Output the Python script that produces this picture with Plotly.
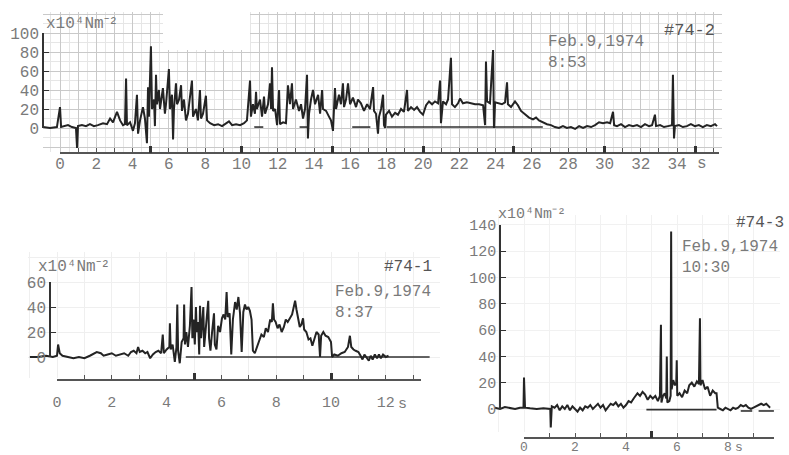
import plotly.graph_objects as go

W, H = 789, 455
FONT = "Liberation Mono"
INK = "#242424"
LABEL = "#7a7a7a"

# ---------------- data: #74-2  (Feb.9,1974 8:53) ----------------
t_742 = [-0.94, -0.55, -0.17, 0.0, 0.06, 0.28, 0.44, 0.66, 0.88, 0.94,
         0.99, 1.21, 1.43, 1.65, 1.87, 2.09, 2.37, 2.59, 2.76, 2.92,
         3.14, 3.31, 3.47, 3.58, 3.64, 3.69, 3.86, 4.02, 4.13, 4.24,
         4.30, 4.41, 4.57, 4.68, 4.79, 4.85, 4.90, 5.01, 5.07, 5.18,
         5.23, 5.29, 5.34, 5.45, 5.51, 5.67, 5.78, 5.84, 6.00, 6.06,
         6.17, 6.23, 6.28, 6.39, 6.45, 6.56, 6.67, 6.72, 6.83, 6.94,
         7.05, 7.27, 7.33, 7.49, 7.60, 7.71, 7.77, 7.88, 8.04, 8.10,
         8.27, 8.49, 8.71, 8.93, 9.15, 9.31, 9.48, 9.70, 9.92, 10.14,
         10.30, 10.47, 10.52, 10.63, 10.74, 10.80, 10.85, 11.02, 11.13, 11.24,
         11.30, 11.46, 11.57, 11.63, 11.68, 11.74, 11.85, 11.96, 12.07, 12.12,
         12.29, 12.45, 12.56, 12.67, 12.78, 12.84, 13.00, 13.17, 13.28, 13.39,
         13.50, 13.61, 13.66, 13.72, 13.83, 13.94, 14.05, 14.22, 14.33, 14.44,
         14.49, 14.66, 14.82, 14.93, 15.04, 15.15, 15.21, 15.37, 15.48, 15.59,
         15.65, 15.76, 15.87, 15.98, 16.14, 16.31, 16.42, 16.58, 16.75, 16.92,
         17.08, 17.25, 17.30, 17.41, 17.52, 17.58, 17.69, 17.80, 17.85, 17.91,
         17.96, 18.13, 18.29, 18.46, 18.62, 18.79, 18.95, 19.12, 19.17, 19.34,
         19.51, 19.67, 19.84, 20.00, 20.17, 20.33, 20.50, 20.66, 20.83, 20.94,
         20.99, 21.10, 21.27, 21.38, 21.54, 21.60, 21.76, 21.93, 22.04, 22.20,
         22.42, 22.64, 22.87, 23.09, 23.31, 23.42, 23.47, 23.53, 23.69, 23.86,
         23.91, 23.97, 24.13, 24.35, 24.52, 24.63, 24.68, 24.85, 25.07, 25.23,
         25.40, 25.62, 25.84, 26.06, 26.23, 26.39, 26.61, 26.83, 27.05, 27.27,
         27.49, 27.71, 27.93, 28.15, 28.38, 28.60, 28.82, 29.04, 29.26, 29.48,
         29.70, 29.92, 30.14, 30.31, 30.47, 30.53, 30.69, 30.91, 31.13, 31.35,
         31.57, 31.79, 32.01, 32.23, 32.45, 32.62, 32.78, 32.84, 33.06, 33.28,
         33.50, 33.72, 33.77, 33.83, 33.88, 34.10, 34.32, 34.54, 34.76, 34.98,
         35.20, 35.42, 35.64, 35.86, 36.09, 36.20]
p_742 = [1, 0, 1, 22, 1, 2, 3, 1, 0, -21,
         2, 3, 2, 4, 2, 3, 5, 4, 10, 6,
         17, 8, 3, 4, 52, 3, 6, -3, 5, 35,
         -6, 8, 22, 10, -16, 43, 12, 86, 20, 30,
         2, 56, 25, 40, 20, 42, 15, 25, 62, 20,
         35, -12, 20, 47, 25, 30, 45, 18, 30, 8,
         15, 50, 12, 20, 8, 40, 10, 15, 34, 8,
         5, 3, 4, 2, 5, 7, 3, 4, 3, 5,
         8, 50, 12, 25, 15, 38, 20, 30, 12, 33,
         15, 25, 47, 20, 64, 18, 20, 3, 40, 4,
         6, 5, 45, 25, 47, 20, 30, 18, 25, 10,
         20, 56, -11, 15, 30, 40, 25, 35, 15, 40,
         20, 18, 12, 8, -3, 42, 20, 35, 25, 47,
         22, 30, 47, 25, 32, 22, 30, 26, 18, 25,
         20, 43, 18, 15, -6, 12, 20, 35, 3, 0,
         14, 18, 12, 16, 14, 20, 17, 40, 18, 22,
         19, 22, 17, 14, 24, 28, 25, 28, 26, 50,
         5, 28, 25, 30, 74, 25, 22, 26, 31, 26,
         27, 26, 25, 25, 24, 3, 70, 28, 26, 82,
         0, 27, 26, 25, 27, 48, 25, 22, 28, 24,
         18, 14, 11, 9, 11, 8, 6, 4, 3, 1,
         0, 2, 0, 1, -1, 2, 0, 2, 1, 3,
         6, 5, 6, 5, 17, 3, 2, 4, 1, 3,
         2, 3, 1, 4, 2, 3, 14, 2, 3, 1,
         2, 3, 56, -11, 2, 3, 1, 2, 4, 2,
         3, 1, 3, 2, 4, 2]
base_t_742 = [10.7, 11.2, None, 13.2, 13.7, None, 16.1, 17.1, None, 18.0, 26.6]
base_p_742 = [1, 1, None, 1, 1, None, 1, 1, None, 1, 1]
yticks_742 = [0, 20, 40, 60, 80, 100]
xlabels_742 = [0, 2, 4, 6, 8, 10, 12, 14, 16, 18, 20, 22, 24, 26, 28, 30, 32, 34]
major_742 = [5, 10, 15, 20, 25, 30, 35]

# ---------------- data: #74-1  (Feb.9,1974 8:37) ----------------
t_741 = [-0.99, -0.7, -0.4, -0.15, 0.0, 0.04, 0.1, 0.2, 0.4, 0.6,
         0.8, 1.0, 1.2, 1.35, 1.45, 1.6, 1.7, 1.85, 2.0, 2.15,
         2.3, 2.45, 2.6, 2.7, 2.8, 2.9, 2.96, 3.02, 3.12, 3.22,
         3.3, 3.4, 3.5, 3.6, 3.7, 3.8, 3.86, 3.9, 4.0, 4.1,
         4.12, 4.15, 4.22, 4.3, 4.36, 4.39, 4.42, 4.48, 4.55, 4.62,
         4.64, 4.67, 4.72, 4.78, 4.85, 4.91, 4.94, 4.98, 5.03, 5.07,
         5.1, 5.15, 5.19, 5.22, 5.26, 5.3, 5.34, 5.37, 5.42, 5.47,
         5.52, 5.55, 5.6, 5.66, 5.73, 5.76, 5.82, 5.88, 5.95, 6.02,
         6.08, 6.14, 6.19, 6.23, 6.3, 6.36, 6.42, 6.5, 6.56, 6.62,
         6.68, 6.74, 6.8, 6.86, 6.92, 6.98, 7.04, 7.1, 7.15, 7.22,
         7.3, 7.38, 7.46, 7.55, 7.62, 7.7, 7.78, 7.84, 7.88, 7.92,
         7.98, 8.05, 8.12, 8.2, 8.28, 8.35, 8.42, 8.5, 8.58, 8.64,
         8.69, 8.74, 8.8, 8.86, 8.92, 8.98, 9.02, 9.1, 9.18, 9.25,
         9.32, 9.4, 9.47, 9.55, 9.6, 9.64, 9.72, 9.8, 9.9, 10.0,
         10.04, 10.12, 10.25, 10.38, 10.5, 10.62, 10.69, 10.74, 10.82, 10.9,
         11.0, 11.08, 11.15, 11.22, 11.3, 11.38, 11.45, 11.52, 11.6, 11.68,
         11.75, 11.82, 11.9, 12.0, 12.1]
p_741 = [0, 0, 1, 0, 1, 10, 3, 1, 0, -1,
         0, -1, 1, 3, 4, 3, 1, 2, 3, 1,
         2, 3, 1, 4, 5, 3, 8, 4, 5, 3,
         4, -1, 2, 4, 5, 3, 18, 3, 6, 8,
         27, 6, 10, -4, 8, 42, 5, -5, 12, 15,
         42, 10, 20, 8, 25, 56, 15, 30, 10, 40,
         20, 28, 2, 41, 15, 25, 40, 8, 20, 28,
         45, 15, 5, 20, 35, 10, 6, 25, 20, 31,
         34, 30, 52, 32, 35, 2, 30, 44, 38, 48,
         35, 4, 36, 42, 38, 40, 37, 30, 5, 3,
         8, 12, 18, 16, 23, 20, 30, 28, 43, 30,
         28, 23, 26, 20, 24, 30, 28, 31, 34, 40,
         45, 38, 30, 24, 26, 31, 22, 20, 14, 15,
         9, 16, 20, 18, 0, 17, 20, 17, 16, 12,
         0, 2, 1, 3, 4, 8, 17, 8, 6, 5,
         4, 1, -2, 2, -1, -3, 1, -2, 2, -1,
         2, -1, 2, 0, 1]
base_t_741 = [4.7, 13.6]
base_p_741 = [0, 0]
yticks_741 = [0, 20, 40, 60]
xlabels_741 = [0, 2, 4, 6, 8, 10, 12]
major_741 = [5, 10]

# ---------------- data: #74-3  (Feb.9,1974 10:30) ----------------
t_743 = [-1.14, -0.94, -0.75, -0.55, -0.35, -0.16, -0.02, 0.0, 0.04, 0.24,
         0.5, 0.76, 0.95, 1.03, 1.05, 1.09, 1.2, 1.3, 1.4, 1.5,
         1.6, 1.7, 1.8, 1.9, 2.0, 2.1, 2.2, 2.3, 2.4, 2.5,
         2.6, 2.7, 2.8, 2.9, 3.0, 3.1, 3.2, 3.3, 3.4, 3.5,
         3.6, 3.7, 3.8, 3.9, 4.0, 4.1, 4.2, 4.3, 4.45, 4.55,
         4.65, 4.75, 4.85, 4.95, 5.05, 5.15, 5.25, 5.33, 5.37, 5.39,
         5.45, 5.52, 5.58, 5.6, 5.62, 5.7, 5.75, 5.77, 5.79, 5.85,
         5.92, 5.97, 5.99, 6.01, 6.1, 6.2, 6.3, 6.4, 6.48, 6.58,
         6.68, 6.78, 6.86, 6.9, 6.92, 7.0, 7.1, 7.2, 7.3, 7.4,
         7.5, 7.55, 7.6, 7.7, 7.8, 7.9, 8.0, 8.1, 8.2, 8.3,
         8.4, 8.5, 8.6, 8.7, 8.8, 8.9, 9.0, 9.1, 9.2, 9.3,
         9.4, 9.5, 9.6, 9.65]
p_743 = [1, 0, 1.5, 0.5, 0, 1, 1, 24, 1, 0.5,
         0, 0.5, 0, 0, -14, 2, 1, 3, -1, 2,
         0, 3, -1, 2, 0, -2, 1, -1, 2, 1,
         3, 0, 2, 4, 1, 3, -1, 2, 4, 3,
         5, 2, 4, 1, 3, 6, 5, 8, 12, 10,
         13, 11, 7, 10, 8, 10, 6, 10, 64, 5,
         10, 12, 8, 40, 5, 6, 10, 135, 15, 22,
         18, 20, 37, 10, 12, 9, 14, 12, 18, 20,
         17, 21, 19, 69, 18, 22, 15, 17, 10, 14,
         12, 12, 1, 0, -1, 1, 0, -1, 1, 0,
         1, 3, 2, 3, 1, 0, 1, 2, 3, 4,
         3, 4, 2, 1]
base_t_743 = [4.8, 7.55, None, 8.5, 8.95, None, 9.2, 9.8]
base_p_743 = [-0.5, -0.5, None, -1.5, -1.5, None, -1.5, -1.5]
yticks_743 = [0, 20, 40, 60, 80, 100, 120, 140]
xlabels_743 = [0, 2, 4, 6, 8]
major_743 = [5]

# ---------------- geometry (pixels in the 789x455 page) ----------------
geom = [
    dict(box=(43, 722, 12, 152), x0=60, sx=18.15, y0=128, sy=0.95, ytop=100,
         yaxis_px=43, xaxis_py=153, xend=36.3, fs=16, xfs=16, stand=-4,
         grid='#c9c9c9', minor='#e6e6e6', unit_t=35.35, unit_py=164),
    dict(box=(28, 440, 252, 378), x0=57, sx=27.4, y0=357, sy=1.25, ytop=60,
         yaxis_px=50, xaxis_py=380, xend=13.3, fs=16, xfs=15, stand=8,
         grid='#efefef', minor=None, unit_t=12.6, unit_py=404),
    dict(box=(490, 780, 215, 432), x0=524, sx=25.5, y0=409, sy=1.315, ytop=140,
         yaxis_px=500, xaxis_py=438, xend=9.8, fs=15, xfs=13, stand=-3,
         grid='#f1f1f1', minor=None, unit_t=8.45, unit_py=447),
]


def fx(px):
    return px / W


def fy(py):
    return 1 - py / H


def nm(k):
    return '' if k == 1 else str(k)


fig = go.Figure()
layout = {}
ann = []


def add_panel(n, t, p, bt, bp, yticks, xlabels, major, g):
    xa, xt, xk = 3 * n + 1, 3 * n + 2, 3 * n + 3
    ya, yv = 2 * n + 1, 2 * n + 2
    L, R, T, B = g['box']
    x0, sx, y0, sy = g['x0'], g['sx'], g['y0'], g['sy']

    xdict = dict(domain=[fx(L), fx(R)], range=[(L - x0) / sx, (R - x0) / sx],
                 anchor='y' + nm(ya), showgrid=True, gridcolor=g['grid'], gridwidth=1,
                 tick0=0, dtick=1, showticklabels=False, ticks='', showline=False,
                 zeroline=False, fixedrange=True, automargin=False)
    ydict = dict(domain=[fy(B), fy(T)], range=[(y0 - B) / sy, (y0 - T) / sy],
                 anchor='x' + nm(xa), showgrid=True, gridcolor=g['grid'], gridwidth=1,
                 tick0=0, dtick=20, showticklabels=False, ticks='', showline=False,
                 zeroline=False, fixedrange=True, automargin=False)
    if g['minor']:
        xdict['minor'] = dict(dtick=0.5, showgrid=True, gridcolor=g['minor'])
        ydict['minor'] = dict(dtick=10, showgrid=True, gridcolor=g['minor'])
    layout['xaxis' + nm(xa)] = xdict
    layout['yaxis' + nm(ya)] = ydict

    ytop = g['ytop']
    layout['yaxis' + nm(yv)] = dict(
        domain=[fy(y0), fy(y0 - sy * ytop)], range=[0, ytop], anchor='free',
        position=fx(g['yaxis_px']), showline=True, linecolor='#333333', linewidth=1.5,
        ticks='inside', ticklen=5, tickwidth=1.3, tickcolor='#333333', tickvals=yticks,
        tickfont=dict(family=FONT, size=g['fs'], color=LABEL), showgrid=False,
        zeroline=False, fixedrange=True, automargin=False)

    xend = g['xend']
    layout['xaxis' + nm(xt)] = dict(
        domain=[fx(x0), fx(x0 + sx * xend)], range=[0, xend], anchor='free',
        position=fy(g['xaxis_py']), showline=True, linecolor='#555555', linewidth=1.5,
        ticks='inside', ticklen=4, tickwidth=1.2, tickcolor='#555555',
        tickvals=xlabels, ticklabelstandoff=g['stand'],
        minor=dict(tick0=0, dtick=1, ticks='inside', ticklen=4, tickwidth=1.2,
                   tickcolor='#555555', showgrid=False),
        tickfont=dict(family=FONT, size=g['xfs'], color=LABEL), showgrid=False,
        zeroline=False, fixedrange=True, automargin=False)
    layout['xaxis' + nm(xk)] = dict(
        overlaying='x' + nm(xt), range=[0, xend], anchor='free',
        position=fy(g['xaxis_py']), showline=False, ticks='inside', ticklen=7,
        tickwidth=3, tickcolor='#333333', tickvals=major, showticklabels=False,
        showgrid=False, zeroline=False, fixedrange=True, automargin=False)

    fig.add_trace(go.Scatter(x=[None], y=[None], xaxis='x' + nm(xt), yaxis='y' + nm(yv),
                             showlegend=False, hoverinfo='skip'))
    fig.add_trace(go.Scatter(x=[None], y=[None], xaxis='x' + nm(xk), yaxis='y' + nm(yv),
                             showlegend=False, hoverinfo='skip'))
    fig.add_trace(go.Scatter(x=bt, y=bp, mode='lines', connectgaps=False,
                             line=dict(color='#303030', width=1.6),
                             xaxis='x' + nm(xa), yaxis='y' + nm(ya),
                             showlegend=False, hoverinfo='skip'))
    fig.add_trace(go.Scatter(x=t, y=p, mode='lines',
                             line=dict(color=INK, width=2.0),
                             xaxis='x' + nm(xa), yaxis='y' + nm(ya),
                             showlegend=False, hoverinfo='skip'))
    ann.append(dict(x=g['unit_t'], y=fy(g['unit_py']), xref='x' + nm(xt), yref='paper',
                    text='s', showarrow=False, yanchor='middle',
                    font=dict(family=FONT, size=g['xfs'], color=LABEL)))


add_panel(0, t_742, p_742, base_t_742, base_p_742, yticks_742, xlabels_742, major_742, geom[0])
add_panel(1, t_741, p_741, base_t_741, base_p_741, yticks_741, xlabels_741, major_741, geom[1])
add_panel(2, t_743, p_743, base_t_743, base_p_743, yticks_743, xlabels_743, major_743, geom[2])


def txt(px, py, s, size=16, color=LABEL):
    ann.append(dict(x=fx(px), y=fy(py), xref='paper', yref='paper', text=s,
                    showarrow=False, xanchor='left', yanchor='middle',
                    font=dict(family=FONT, size=size, color=color)))


unit = 'x10\u2074Nm\u207b\u00b2'
txt(44, 24, unit, 16)
txt(546, 42, 'Feb.9,1974', 16)
txt(546, 63, '8:53', 16)
txt(662, 31, '#74-2', 17, '#555555')

txt(36, 267, unit, 16)
txt(382, 267, '#74-1', 16, '#555555')
txt(333, 292, 'Feb.9,1974', 16)
txt(333, 313, '8:37', 16)

txt(496, 214, unit, 15)
txt(734, 223, '#74-3', 16, '#555555')
txt(680, 247, 'Feb.9,1974', 16)
txt(680, 268, '10:30', 16)

g0 = geom[0]
shapes = [dict(type='rect', xref='x', yref='y', layer='between',
               x0=(163 - g0['x0']) / g0['sx'], x1=(250 - g0['x0']) / g0['sx'],
               y0=(g0['y0'] - 50) / g0['sy'], y1=(g0['y0'] - 8) / g0['sy'],
               fillcolor='white', line=dict(width=0))]

fig.update_layout(width=W, height=H, autosize=False,
                  margin=dict(l=0, r=0, t=0, b=0, pad=0, autoexpand=False),
                  paper_bgcolor='white', plot_bgcolor='rgba(0,0,0,0)',
                  showlegend=False, annotations=ann, shapes=shapes,
                  font=dict(family=FONT), **layout)

fig.write_html("out.html", config={'displayModeBar': False},
               post_script="document.body.style.margin='0';document.body.style.overflow='hidden';")
